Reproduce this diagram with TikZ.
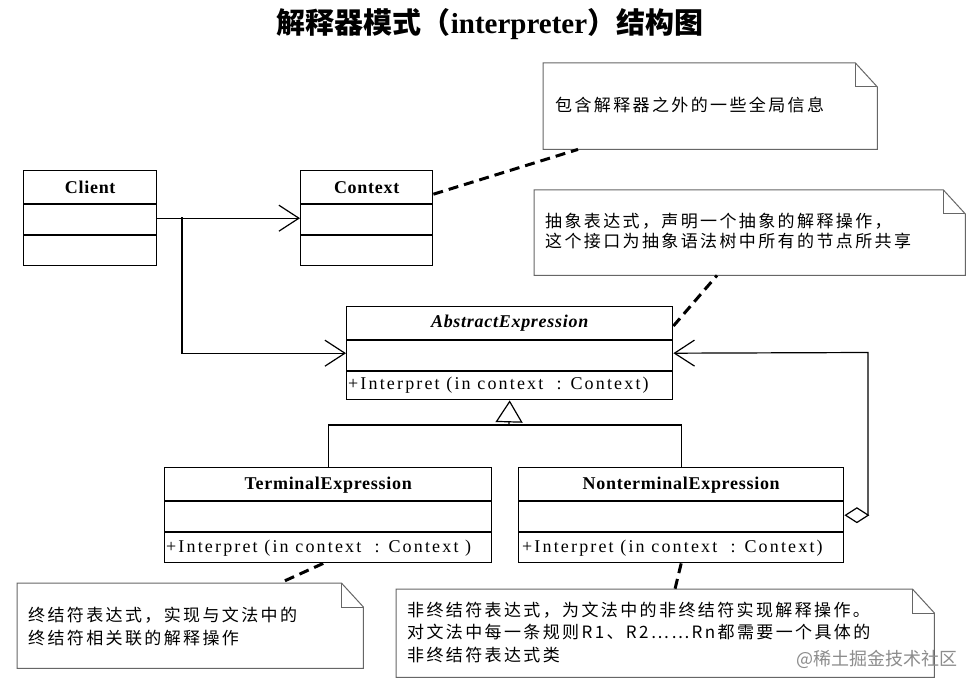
\documentclass[tikz,border=0pt]{standalone}
\usepackage{fontspec}
\setmainfont{Liberation Serif}
\newfontfamily\cjk{Noto Sans CJK SC}
\newfontfamily\cjknote[LetterSpace=14]{Noto Sans CJK SC}
\newfontfamily\methfont[LetterSpace=12]{Liberation Serif}
\newfontfamily\namefont[LetterSpace=4]{Liberation Serif}
\usetikzlibrary{arrows.meta,calc}
\newcommand\compartments[1]{%
  \draw[boxline] ([yshift=-34pt]#1.north west) -- ([yshift=-34pt]#1.north east);
  \draw[boxline] ([yshift=-65pt]#1.north west) -- ([yshift=-65pt]#1.north east);}
\newcommand\drawnote[1]{%
  \draw[noteline] (#1.south west) -- (#1.north west) -- ([xshift=-22pt]#1.north east)
    -- ([yshift=-24pt]#1.north east) -- (#1.south east) -- cycle;
  \draw[noteline] ([xshift=-22pt]#1.north east) |- ([yshift=-24pt]#1.north east);}
\begin{document}
\begin{tikzpicture}[x=1pt,y=-1pt,
  boxline/.style={line width=1.4pt},
  classbox/.style={draw, line width=1.4pt, inner sep=0pt, anchor=north west},
  classname/.style={font=\namefont\fontsize{18}{20}\selectfont\bfseries, inner sep=0pt},
  methodtext/.style={font=\methfont\fontsize{18}{20}\selectfont, anchor=west, inner sep=0pt},
  notebox/.style={inner sep=0pt, anchor=north west},
  noteline/.style={draw=black!60, line width=1pt},
  notetext/.style={font=\cjknote\fontsize{17}{#1}\selectfont, anchor=west, align=left, inner sep=0pt},
  notetext/.default={22},
  assoc/.style={line width=1.2pt, -{Straight Barb[length=20pt,width=26pt]}},
  notelink/.style={line width=3pt, dash pattern=on 10pt off 6pt},
]
\useasboundingbox[fill=white] (0,0) rectangle (978,690);

% title
\node[font=\fontsize{29}{32}\selectfont] (title) at (490,24)
  {{\cjk\bfseries 解释器模式（}{\bfseries interpreter}{\cjk\bfseries ）结构图}};

% notes
\node[notebox, minimum width=334pt, minimum height=86pt] (n1) at (543,63) {};
\node[notebox, minimum width=431pt, minimum height=85pt] (n2) at (534,190) {};
\node[notebox, minimum width=346pt, minimum height=85pt] (n3) at (17,583) {};
\node[notebox, minimum width=538pt, minimum height=88pt] (n4) at (396,589) {};
\drawnote{n1}\drawnote{n2}\drawnote{n3}\drawnote{n4}
\node[notetext] (n1t) at (555,105) {包含解释器之外的一些全局信息};
\node[notetext=20] (n2t) at (545,231) {抽象表达式，声明一个抽象的解释操作，\\这个接口为抽象语法树中所有的节点所共享};
\node[notetext=23] (n3t) at (28,626.5) {终结符表达式，实现与文法中的\\终结符相关联的解释操作};
\node[notetext=22.5] (n4t) at (407,632) {非终结符表达式，为文法中的非终结符实现解释操作。\\对文法中每一条规则R1、R2……Rn都需要一个具体的\\非终结符表达式类};

% classes
\node[classbox, minimum width=133pt, minimum height=95pt] (client) at (23,170) {};
\compartments{client}
\node[classname] (clientn) at ([yshift=-17pt]client.north) {Client};

\node[classbox, minimum width=132pt, minimum height=95pt] (context) at (300,170) {};
\compartments{context}
\node[classname] (contextn) at ([yshift=-18pt]context.north) {Context};

\node[classbox, minimum width=326pt, minimum height=93pt] (ae) at (346,306) {};
\compartments{ae}
\node[classname, font=\namefont\fontsize{18}{20}\selectfont\bfseries\itshape] (aen) at ([yshift=-17pt]ae.north) {AbstractExpression};
\node[methodtext] (aem) at ([xshift=2pt,yshift=15pt]ae.south west) {+Interpret (in context\ \ : Context)};

\node[classbox, minimum width=327pt, minimum height=95pt] (te) at (164,467) {};
\compartments{te}
\node[classname] (ten) at ([yshift=-18pt]te.north) {TerminalExpression};
\node[methodtext] (tem) at ([xshift=2pt,yshift=15pt]te.south west) {+Interpret (in context\ \ : Context )};

\node[classbox, minimum width=325pt, minimum height=95pt] (nt) at (518,467) {};
\compartments{nt}
\node[classname] (ntn) at ([yshift=-18pt]nt.north) {NonterminalExpression};
\node[methodtext] (ntm) at ([xshift=4pt,yshift=15pt]nt.south west) {+Interpret (in context\ \ : Context)};

% connectors
\coordinate (split) at (182,217.5);
\draw[assoc] (client.east) -- (context.west);
\draw[assoc] (split) |- (ae.west);

\coordinate (gen) at (509,425);
\draw[line width=1.2pt] (te.north) |- (gen) -| (nt.north);
\draw[line width=1.2pt, -{Triangle[open,length=22pt,width=27pt]}] (gen) -- (ae.south);

\coordinate (aggtop) at (868,352.5);
\draw[line width=1.2pt, {Diamond[open,length=25pt,width=16pt]}-{Straight Barb[length=20pt,width=26pt]}]
  (nt.east) -| (aggtop) -- (ae.east);

\draw[notelink] ([yshift=24pt]context.east) -- ([xshift=35pt]n1.south west);
\draw[notelink] ([yshift=-20pt]ae.north east) -- ([xshift=183pt]n2.south west);
\draw[notelink] ([xshift=-5pt]te.south) -- ([xshift=263pt]n3.north west);
\draw[notelink] (nt.south) -- ([xshift=279pt]n4.north west);

% watermark
\node[font=\cjk\fontsize{18}{20}\selectfont, text=black!45, inner sep=0pt] (wm) at (877,659) {@稀土掘金技术社区};
\end{tikzpicture}
\end{document}
